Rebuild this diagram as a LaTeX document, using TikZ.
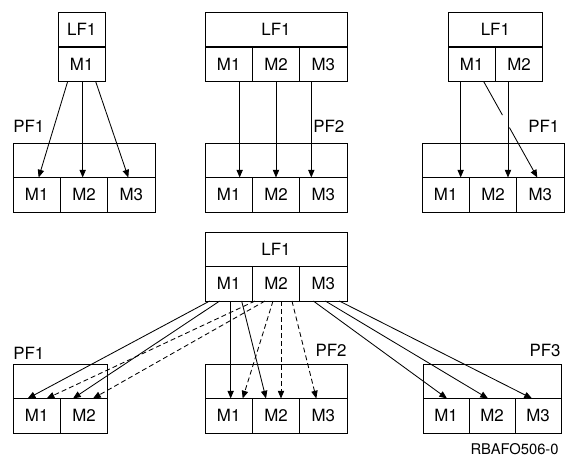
\documentclass[tikz,border=0pt]{standalone}
\usepackage{fontspec}
\setmainfont{TeX Gyre Heros}
\usetikzlibrary{calc}
\usetikzlibrary{arrows.meta}

\tikzset{
  cell/.style={draw, anchor=north west, minimum width=1.183cm,
    minimum height=0.8625cm, inner sep=0pt, outer sep=0pt},
  lbl/.style={inner sep=0pt},
  dashline/.style={dash pattern=on 3.5pt off 2.2pt},
}

\begin{document}
\begin{tikzpicture}[x=0.025cm, y=-0.025cm, line width=0.6pt,
    >={Triangle[length=5.5pt,width=4.5pt]}, font=\fontsize{12}{14}\selectfont]
  \useasboundingbox (0,0) rectangle (566,457);
  % top left
  \node[cell] (la) at (58,12) {LF1};
  \node[cell] (la1) at (58,47) {M1};
  \node[cell, minimum width=3.55cm] (pa) at (13,143) {};
  \foreach \i in {1,2,3}{
    \node[cell] (pa\i) at ({13+(\i-1)*47.33},177.5) {M\i};
  }
  \node[lbl, anchor=base west] (pal) at (13,133) {PF1};
  \draw[->] ($(la1.south)+(-14,0)$) -- ($(pa1.north)+(2,0)$);
  \draw[->] ($(la1.south)+(1,0)$) coordinate (t) -- (t |- pa2.north);
  \draw[->] ($(la1.south)+(14,0)$) -- ($(pa3.north)+(-3,0)$);
  % top middle
  \node[cell, minimum width=3.55cm] (lb) at (205,12) {LF1};
  \node[cell, minimum width=3.55cm] (pb) at (205,143) {};
  \foreach \i in {1,2,3}{
    \node[cell] (lb\i) at ({205+(\i-1)*47.33},47) {M\i};
    \node[cell] (pb\i) at ({205+(\i-1)*47.33},177.5) {M\i};
  }
  \node[lbl, anchor=base west] (pbl) at (313,133) {PF2};
  \foreach \i/\dx in {1/11,2/0,3/-12}{
    \draw[->] ($(lb\i.south)+(\dx,0)$) coordinate (t) -- (t |- pb\i.north);
  }
  % top right
  \node[cell, minimum width=2.367cm] (lc) at (448,12) {LF1};
  \node[cell, minimum width=3.55cm] (pc) at (422,143) {};
  \foreach \i in {1,2}{
    \node[cell] (lc\i) at ({448+(\i-1)*47.33},47) {M\i};
  }
  \foreach \i in {1,2,3}{
    \node[cell] (pc\i) at ({422+(\i-1)*47.33},177.5) {M\i};
  }
  \node[lbl, anchor=base west] (pcl) at (528,133) {PF1};
  \draw ($(lc1.south)+(12,0)$) coordinate (s) -- ($(s)!0.35!($(pc3.north)+(-3,0)$)$);
  \draw[->] ($(s)!0.48!($(pc3.north)+(-3,0)$)$) -- ($(pc3.north)+(-3,0)$);
  \foreach \i in {1,2}{
    \draw[->] ($(lc\i.south)+(-11,0)$) coordinate (t) -- (t |- pc\i.north);
  }
  % bottom
  \node[cell, minimum width=3.55cm] (ld) at (205,232) {LF1};
  \foreach \i in {1,2,3}{
    \node[cell] (ld\i) at ({205+(\i-1)*47.33},266.5) {M\i};
  }
  \node[cell, minimum width=2.367cm] (pe) at (13,364) {};
  \foreach \i in {1,2}{
    \node[cell] (pe\i) at ({13+(\i-1)*47.33},398.5) {M\i};
  }
  \node[cell, minimum width=3.55cm] (pf) at (205,364) {};
  \foreach \i in {1,2,3}{
    \node[cell] (pf\i) at ({205+(\i-1)*47.33},398.5) {M\i};
  }
  \node[cell, minimum width=3.45cm] (pg) at (423,364) {};
  \foreach \i in {1,2,3}{
    \node[cell, minimum width=1.15cm] (pg\i) at ({423+(\i-1)*46},398.5) {M\i};
  }
  \node[lbl, anchor=base west] (pel) at (13,360) {PF1};
  \node[lbl, anchor=base east] (pfl) at (347,357) {PF2};
  \node[lbl, anchor=base east] (pgl) at (561,357) {PF3};
  \node[lbl, anchor=base east, font=\fontsize{10.5}{12}\selectfont] (fig) at (559,455) {RBAFO506-0};
  % M1 solid
  \foreach \dx/\to/\ex in {-19/pe1/-9, -9/pe2/-11, 13/pf2/-10}{
    \draw[->] ($(ld1.south)+(\dx,0)$) -- ($(\to.north)+(\ex,0)$);
  }
  \draw[->] ($(ld1.south)+(2,0)$) coordinate (t) -- (t |- pf1.north);
  % M2 dashed
  \foreach \dx/\to/\ex in {-21/pe1/10, -11/pe2/9, -3/pf1/14, 16/pf3/-7}{
    \draw[->, dashline] ($(ld2.south)+(\dx,0)$) -- ($(\to.north)+(\ex,0)$);
  }
  \draw[->, dashline] ($(ld2.south)+(5,0)$) coordinate (t) -- (t |- pf2.north);
  % M3 solid
  \foreach \dx/\to/\ex in {-10/pg1/1, 2/pg2/-4, 16/pg3/-6}{
    \draw[->] ($(ld3.south)+(\dx,0)$) -- ($(\to.north)+(\ex,0)$);
  }
\end{tikzpicture}
\end{document}
